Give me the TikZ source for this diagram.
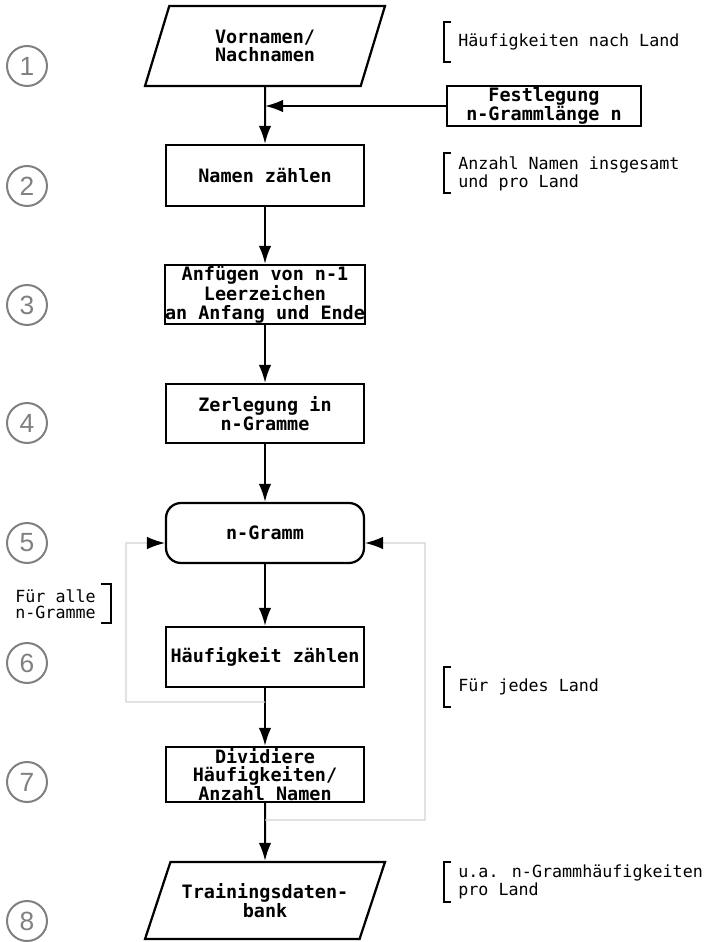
\documentclass[tikz,border=0pt]{standalone}
\usepackage{fontspec}
\usepackage{tikz}
\usetikzlibrary{shapes.geometric,arrows.meta}
\newfontfamily\flowfont{DejaVu Sans Mono}
\newfontfamily\stepfont{Liberation Sans}
\definecolor{stepgray}{HTML}{808080}
\definecolor{loopgray}{HTML}{D2D2D2}

\begin{document}
\begin{tikzpicture}[x=0.02cm, y=-0.02cm,
  boxfont/.style={font=\flowfont\bfseries\fontsize{10.5}{10.6}\selectfont},
  process/.style={boxfont, draw, line width=0.045cm, minimum width=3.96cm, inner sep=0pt, align=center},
  io/.style={boxfont, draw, line width=0.045cm, trapezium, trapezium left angle=53.13, trapezium right angle=126.87, trapezium stretches body, minimum width=4.8cm, inner sep=0pt, align=center},
  loopbox/.style={process, rounded corners=0.3cm},
  flow/.style={line width=0.04cm, -{Latex[length=0.36cm,width=0.25cm]}},
  loopline/.style={loopgray, line width=0.025cm, -{Latex[length=0.36cm,width=0.25cm,color=black]}},
  note/.style={font=\flowfont\fontsize{9.5}{9.1}\selectfont, inner sep=0pt, align=left},
  bracket/.style={line width=0.035cm},
  stepnum/.style={circle, draw=stepgray, text=stepgray, line width=0.04cm, minimum size=0.8cm, inner sep=0pt, font=\stepfont\fontsize{15}{15}\selectfont}]
\useasboundingbox (0,0) rectangle (706,942);

% steps
\foreach \y [count=\i] in {66,186,305,423,543,663,782,921}
  \node[stepnum] (s\i) at (27,\y) {\i};

% flow
\node[io, minimum height=1.6cm] (input) at (265,46) {Vornamen/\\Nachnamen};
\node[process, minimum width=3.88cm, minimum height=0.8cm] (fest) at (544,106) {Festlegung\\n-Grammlänge n};
\node[process, minimum height=1.22cm] (count) at (265,175.5) {Namen zählen};
\node[process, minimum height=1.18cm] (pad) at (265,294.5) {Anfügen von n-1\\Leerzeichen\\an Anfang und Ende};
\node[process, minimum height=1.18cm] (split) at (265,413.5) {Zerlegung in\\n-Gramme};
\node[loopbox, minimum height=1.2cm] (ngram) at (265,533) {n-Gramm};
\node[process, minimum height=1.2cm] (freq) at (265,657) {Häufigkeit zählen};
\node[process, minimum height=1.1cm] (divide) at (265,774.5) {Dividiere\\Häufigkeiten/\\Anzahl Namen};
\node[io, minimum height=1.54cm] (db) at (265,900.5) {Trainingsdaten-\\bank};

\draw[flow] (input) -- (count);
\draw[flow] (fest.west) -- (fest.west -| count.north);
\draw[flow] (count) -- (pad);
\draw[flow] (pad) -- (split);
\draw[flow] (split) -- (ngram);
\draw[flow] (ngram) -- (freq);
\draw[flow] (freq) -- (divide);
\draw[flow] (divide) -- (db);

% loops
\coordinate (loopL) at (265,702);
\coordinate (loopR) at (265,820);
\draw[loopline] (loopL) -- (126,702) -- (126,543) -- ([yshift=-0.2cm]ngram.west);
\draw[loopline] (loopR) -- (425,820) -- (425,543) -- ([yshift=-0.2cm]ngram.east);

% notes
\node[note, anchor=west] (n1) at (458,42) {Häufigkeiten nach Land};
\node[note, anchor=west] (n2) at (458,174) {Anzahl Namen insgesamt\\und pro Land};
\node[note, anchor=west] (n6) at (458,687) {Für jedes Land};
\node[note, anchor=west] (n8) at (458,882) {u.a. n-Grammhäufigkeiten\\pro Land};
\node[note, anchor=west] (n5) at (15,604) {Für alle\\n-Gramme};
\foreach \n in {n1,n6,n8}
  \draw[bracket] ([shift={(-7,-20)}]\n.west) -- ++(-7,0) -- ++(0,40) -- ++(7,0);
\draw[bracket] ([shift={(-7,-21)}]n2.west) -- ++(-7,0) -- ++(0,40) -- ++(7,0);
\draw[bracket] ([shift={(5,-20)}]n5.east) -- ++(10,0) -- ++(0,39) -- ++(-10,0);
\end{tikzpicture}
\end{document}
